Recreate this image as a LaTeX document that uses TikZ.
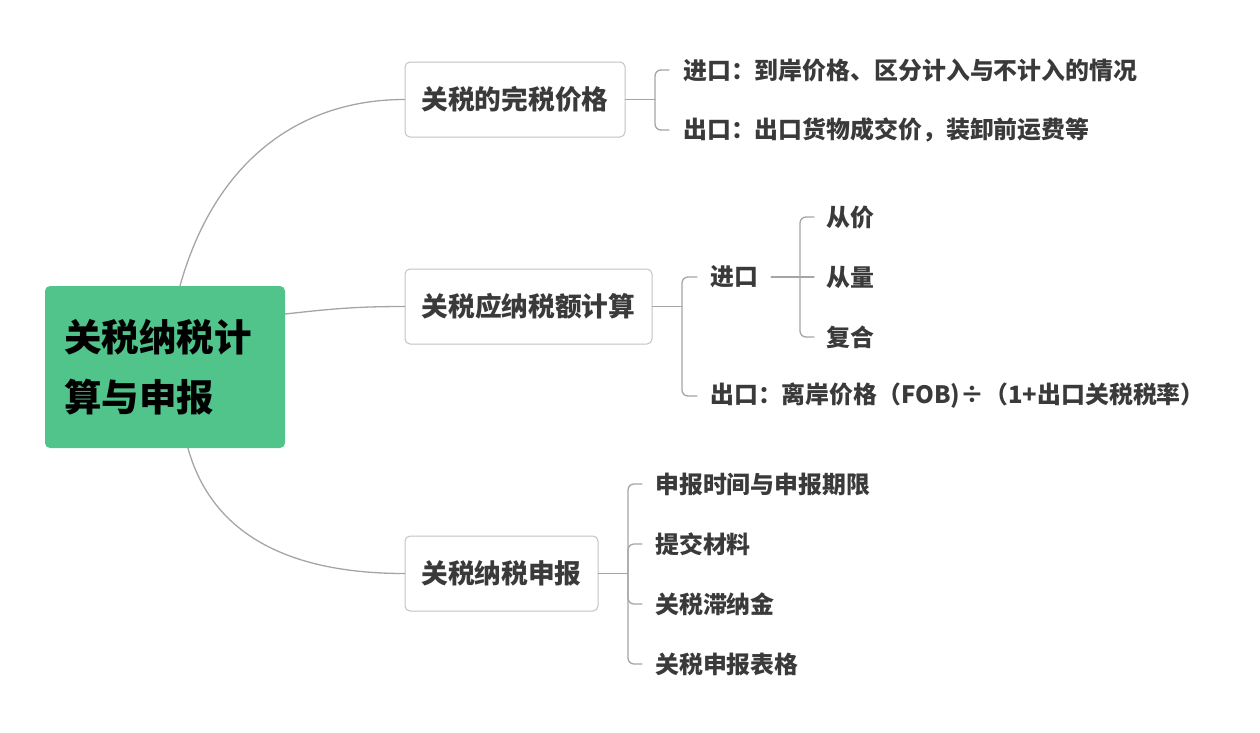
\documentclass[tikz,border=0pt]{standalone}
\usepackage{fontspec}
\newfontfamily\cjk{Noto Sans CJK SC}
\usetikzlibrary{positioning}

\definecolor{rootgreen}{RGB}{80,196,139}
\definecolor{linegray}{RGB}{165,165,165}
\definecolor{boxgray}{RGB}{195,195,195}
\definecolor{txtgray}{RGB}{58,58,58}

\begin{document}
\begin{tikzpicture}[x=1pt, y=-1pt, line cap=round, line join=round,
  conn/.style={draw=linegray, line width=1.3pt},
  rootbox/.style={fill=rootgreen, rounded corners=5pt, inner xsep=19pt, inner ysep=0pt,
    minimum width=240pt, minimum height=162pt, text width=202pt, align=left,
    font=\cjk\bfseries\fontsize{37.5}{60}\selectfont, text=black},
  topic/.style={draw=boxgray, line width=1pt, rounded corners=5pt, fill=white, inner sep=0pt,
    minimum height=75pt, font=\cjk\bfseries\fontsize{26.7}{30}\selectfont, text=txtgray},
  leaf/.style={anchor=west, inner sep=0pt, font=\cjk\bfseries\fontsize{23.9}{28}\selectfont, text=txtgray}]

  %% ════ 中心主题 ════
  \node[rootbox] (root) at (165,367) {关税纳税计\\算与申报};

  %% ════ 分支主题 ════
  \node[topic, minimum width=220pt] (jg) at (515,99.5) {关税的完税价格};
  \node[topic, minimum width=247pt] (js) at (528.5,306.5) {关税应纳税额计算};
  \node[topic, minimum width=193pt] (sb) at (501.5,573.5) {关税纳税申报};

  %% ════ 子主题 ════
  \node[leaf] (jgi) at (683,70) {进口：到岸价格、区分计入与不计入的情况};
  \node[leaf] (jgo) at (683,130) {出口：出口货物成交价，装卸前运费等};
  \node[leaf] (jsi) at (710,277) {进口};
  \node[leaf] (jso) at (710,396) {出口：离岸价格（FOB)÷（1+出口关税税率）};
  \node[leaf] (cj) at (826,217) {从价};
  \node[leaf] (cl) at (826,277) {从量};
  \node[leaf] (fh) at (826,337) {复合};
  \node[leaf] (sj) at (655,484) {申报时间与申报期限};
  \node[leaf] (tj) at (655,544) {提交材料};
  \node[leaf] (zn) at (655,604) {关税滞纳金};
  \node[leaf] (bg) at (655,664) {关税申报表格};

  %% ════ 中心 → 分支（曲线）════
  \draw[conn] ([xshift=15pt]root.north) .. controls +(35,-125) and +(-105,0) .. (jg.west);
  \draw[conn] ([yshift=53pt]root.east) .. controls +(45,-5) and +(-50,0) .. (js.west);
  \draw[conn] ([xshift=23pt]root.south) .. controls +(25,90) and +(-110,0) .. (sb.west);

  %% ════ 分支 → 子主题（括号线）════
  \coordinate (k1) at (655,99.5);
  \draw[conn] (jg.east) -- (k1);
  \draw[conn, rounded corners=6pt] ([xshift=-14pt]jgi.west) -| (k1) |- ([xshift=-14pt]jgo.west);

  \coordinate (k2) at (682,306.5);
  \draw[conn] (js.east) -- (k2);
  \draw[conn, rounded corners=6pt] ([xshift=-13pt]jsi.west) -| (k2) |- ([xshift=-13pt]jso.west);

  \coordinate (k3) at (800,277);
  \draw[conn] ([xshift=13pt]jsi.east) -- ([xshift=-12pt]cl.west);
  \draw[conn, rounded corners=6pt] ([xshift=-12pt]cj.west) -| (k3) |- ([xshift=-12pt]fh.west);

  \coordinate (k4) at (628,573.5);
  \draw[conn] (sb.east) -- (k4);
  \draw[conn, rounded corners=6pt] ([xshift=-13pt]sj.west) -| (k4) |- ([xshift=-13pt]bg.west);
  \draw[conn, rounded corners=6pt] ([xshift=-13pt]tj.west) -| (k4);
  \draw[conn, rounded corners=6pt] ([xshift=-13pt]zn.west) -| (k4);

  % 钉死画布
  \pgfresetboundingbox
  \path[use as bounding box] (0,0) rectangle (1260,732);
\end{tikzpicture}
\end{document}
